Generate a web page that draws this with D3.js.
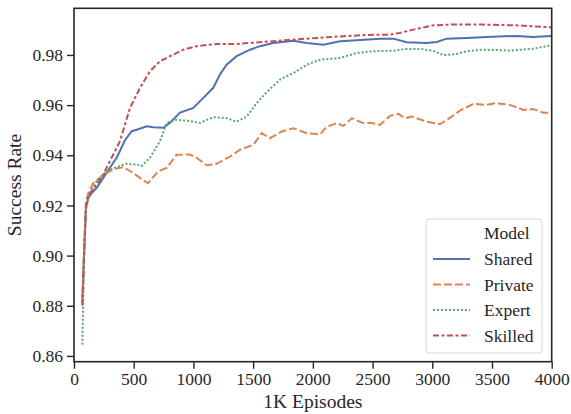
<!DOCTYPE html>
<html>
<head>
<meta charset="utf-8">
<script src="https://cdn.jsdelivr.net/npm/d3@7"></script>
<style>
  body { margin: 0; background: #fff; }
  text { font-family: "Liberation Serif", "Times New Roman", serif; fill: #262626; }
</style>
</head>
<body>
<svg width="571" height="414"></svg>
<script>
var svg = d3.select("svg"),
    width = +svg.attr("width"),
    height = +svg.attr("height");

// data (episodes in thousands, success rate)
var models = ["Shared", "Private", "Expert", "Skilled"];

var sharedX = [70, 84, 100, 120, 150, 190, 245, 301, 357, 427, 483, 525, 609, 664, 748, 804, 888, 999, 1083, 1166, 1222, 1278, 1362, 1474, 1557, 1669, 1837, 1949, 2088, 2228, 2367, 2562, 2674, 2786, 2953, 3037, 3121, 3288, 3456, 3707, 3844, 4000];
var sharedY = [0.881, 0.900, 0.919, 0.923, 0.925, 0.927, 0.931, 0.935, 0.939, 0.946, 0.9496, 0.9502, 0.9516, 0.9512, 0.951, 0.953, 0.957, 0.9589, 0.9629, 0.9669, 0.9722, 0.9761, 0.9795, 0.9821, 0.9835, 0.9848, 0.9857, 0.9848, 0.9841, 0.9855, 0.9859, 0.9865, 0.9865, 0.9851, 0.9848, 0.9852, 0.9865, 0.9868, 0.9872, 0.9876, 0.9872, 0.9876];

var privateX = [70, 84, 100, 120, 162, 245, 329, 413, 497, 609, 622, 706, 776, 860, 971, 1027, 1111, 1195, 1306, 1390, 1502, 1572, 1641, 1739, 1837, 1949, 2061, 2116, 2200, 2256, 2326, 2423, 2479, 2562, 2646, 2716, 2772, 2828, 2953, 3065, 3163, 3232, 3344, 3456, 3526, 3651, 3763, 3846, 3930, 4000];
var privateY = [0.883, 0.902, 0.921, 0.925, 0.929, 0.932, 0.9345, 0.9353, 0.9329, 0.9291, 0.929, 0.9337, 0.935, 0.9402, 0.9403, 0.939, 0.936, 0.9366, 0.9395, 0.9422, 0.9442, 0.9488, 0.9468, 0.9495, 0.9508, 0.9488, 0.9484, 0.9514, 0.9528, 0.9517, 0.9548, 0.9528, 0.953, 0.9521, 0.9557, 0.9565, 0.9548, 0.9554, 0.9534, 0.9524, 0.9554, 0.9578, 0.9605, 0.9601, 0.9608, 0.9601, 0.9581, 0.9584, 0.957, 0.957];

var expertX = [70, 84, 100, 120, 150, 190, 274, 357, 441, 525, 567, 636, 720, 776, 860, 971, 1055, 1166, 1278, 1362, 1446, 1530, 1614, 1725, 1837, 1949, 2061, 2228, 2367, 2507, 2674, 2786, 2897, 3009, 3093, 3205, 3288, 3428, 3568, 3651, 3846, 4000];
var expertY = [0.8645, 0.898, 0.918, 0.923, 0.926, 0.9297, 0.9337, 0.9353, 0.9366, 0.9363, 0.9357, 0.939, 0.9456, 0.9529, 0.9542, 0.9536, 0.9529, 0.9552, 0.9548, 0.9534, 0.9554, 0.9608, 0.9652, 0.9702, 0.9728, 0.9761, 0.9781, 0.9788, 0.9808, 0.9815, 0.9817, 0.9824, 0.9824, 0.9817, 0.9799, 0.9804, 0.9815, 0.9821, 0.9819, 0.9817, 0.9825, 0.9839];

var skilledX = [70, 84, 100, 120, 150, 200, 245, 301, 385, 469, 553, 636, 720, 804, 915, 1027, 1195, 1362, 1474, 1669, 1949, 2228, 2507, 2646, 2730, 2841, 3009, 3148, 3428, 3707, 4000];
var skilledY = [0.880, 0.900, 0.920, 0.924, 0.926, 0.929, 0.9323, 0.9377, 0.9456, 0.9589, 0.9669, 0.9735, 0.9775, 0.9795, 0.9821, 0.9835, 0.9844, 0.9844, 0.9848, 0.9855, 0.9865, 0.9874, 0.9881, 0.9881, 0.9888, 0.9901, 0.9918, 0.9921, 0.9921, 0.9918, 0.991];

var xTicks = [0, 500, 1000, 1500, 2000, 2500, 3000, 3500, 4000];
var yTicks = [0.86, 0.88, 0.90, 0.92, 0.94, 0.96, 0.98];

var series = [
  {name: "Shared", x: sharedX, y: sharedY},
  {name: "Private", x: privateX, y: privateY},
  {name: "Expert", x: expertX, y: expertY},
  {name: "Skilled", x: skilledX, y: skilledY}
];

// seaborn deep palette + default dash styles
var color = d3.scaleOrdinal().domain(models).range(["#4c72b0", "#dd8452", "#55a868", "#c44e52"]);
var dash = d3.scaleOrdinal().domain(models).range(["none", "8,3", "2,2", "6,2.5,3,2.5"]);

var margin = {top: 8.3, right: 571 - 551.7, bottom: 414 - 361.7, left: 74};

var x = d3.scaleLinear().domain([0, 4000]).range([margin.left, width - margin.right]);
var y = d3.scaleLinear().domain([0.8577, 0.9986]).range([height - margin.bottom, margin.top]);

var line = d3.line()
  .x(function (d) { return x(d[0]); })
  .y(function (d) { return y(d[1]); });

svg.append("g")
  .attr("class", "lines")
  .selectAll("path")
  .data(series)
  .enter()
  .append("path")
  .attr("fill", "none")
  .attr("stroke", d => color(d.name))
  .attr("stroke-width", 2)
  .attr("stroke-dasharray", d => dash(d.name))
  .attr("d", d => line(d.x.map((v, i) => [v, d.y[i]])));

// frame
svg.append("rect")
  .attr("x", x.range()[0])
  .attr("y", y.range()[1])
  .attr("width", x.range()[1] - x.range()[0])
  .attr("height", y.range()[0] - y.range()[1])
  .attr("fill", "none")
  .attr("stroke", "#262626")
  .attr("stroke-width", 1.6);

var xAxis = svg.append("g")
  .attr("transform", "translate(0," + y.range()[0] + ")")
  .call(d3.axisBottom(x).tickValues(xTicks).tickSize(7).tickPadding(4).tickFormat(d3.format("d")));

var yAxis = svg.append("g")
  .attr("transform", "translate(" + x.range()[0] + ",0)")
  .call(d3.axisLeft(y).tickValues(yTicks).tickSize(7).tickPadding(4).tickFormat(d3.format(".2f")));

[xAxis, yAxis].forEach(function (a) {
  a.select(".domain").remove();
  a.selectAll("line").attr("stroke", "#262626").attr("stroke-width", 1.4);
  a.selectAll("text")
    .attr("font-family", "'Liberation Serif', serif")
    .attr("font-size", "17.5px")
    .attr("fill", "#262626");
});

svg.append("text")
  .attr("x", (x.range()[0] + x.range()[1]) / 2)
  .attr("y", 408)
  .attr("text-anchor", "middle")
  .attr("font-size", "19.5px")
  .text("1K Episodes");

svg.append("text")
  .attr("transform", "translate(21," + (y.range()[0] + y.range()[1]) / 2 + ") rotate(-90)")
  .attr("text-anchor", "middle")
  .attr("font-size", "19.5px")
  .text("Success Rate");

// legend
var leg = svg.append("g")
  .attr("class", "legend")
  .attr("transform", "translate(426,219)");

leg.append("rect")
  .attr("width", 116)
  .attr("height", 134)
  .attr("rx", 3)
  .attr("fill", "#fff")
  .attr("fill-opacity", 0.8)
  .attr("stroke", "#d6d6d6")
  .attr("stroke-width", 1);

leg.append("text")
  .attr("x", 58)
  .attr("y", 14)
  .attr("dy", "0.35em")
  .attr("font-size", "17.5px")
  .text("Model");

var row = leg.selectAll("g.row")
  .data(models)
  .enter()
  .append("g")
  .attr("class", "row")
  .attr("transform", (d, i) => "translate(0," + (40 + i * 25.5) + ")");

row.append("line")
  .attr("x1", 7)
  .attr("x2", 44)
  .attr("stroke", d => color(d))
  .attr("stroke-width", 2)
  .attr("stroke-dasharray", d => dash(d));

row.append("text")
  .attr("x", 58)
  .attr("dy", "0.35em")
  .attr("font-size", "17.5px")
  .text(d => d);
</script>
</body>
</html>
